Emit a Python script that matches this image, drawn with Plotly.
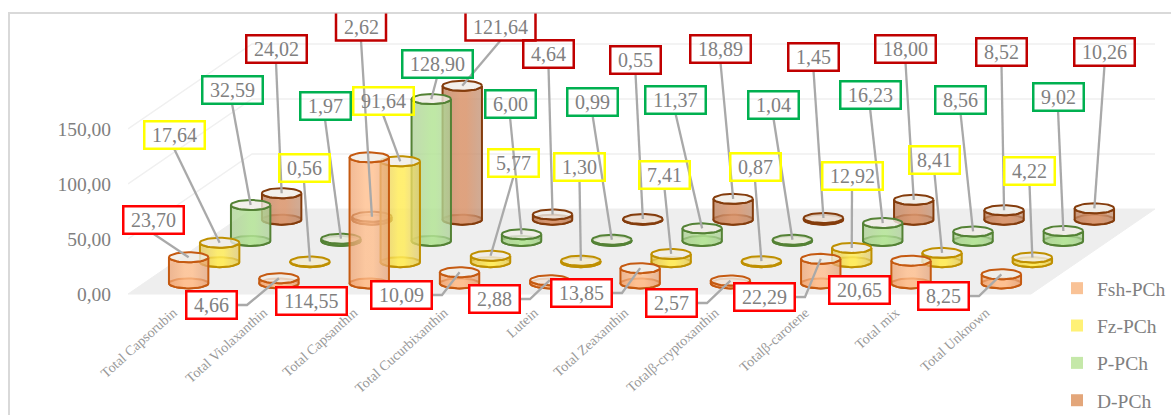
import numpy as np
import plotly.graph_objects as go

categories = ["Total Capsorubin", "Total Violaxanthin", "Total Capsanthin", "Total Cucurbixanthin",
              "Lutein", "Total Zeaxanthin", "Totalβ-cryptoxanthin", "Totalβ-carotene", "Total mix", "Total Unknown"]
series_names = ["Fsh-PCh", "Fz-PCh", "P-PCh", "D-PCh"]
fsh_pch = [23.70, 4.66, 114.55, 10.09, 2.88, 13.85, 2.57, 22.29, 20.65, 8.25]
fz_pch = [17.64, 0.56, 91.64, 5.77, 1.30, 7.41, 0.87, 12.92, 8.41, 4.22]
p_pch = [32.59, 1.97, 128.90, 6.00, 0.99, 11.37, 1.04, 16.23, 8.56, 9.02]
d_pch = [24.02, 2.62, 121.64, 4.64, 0.55, 18.89, 1.45, 18.00, 8.52, 10.26]
value_ticks = [0, 50, 100, 150]
series_values = [fsh_pch, fz_pch, p_pch, d_pch]

# --- styling / layout below (label box centres are layout, not data) ---
label_centres = [
    [(153, 220), (211, 305), (311, 300.5), (401, 295), (494, 299), (581, 293), (671, 303), (764, 297), (859, 289.5), (943, 296)],
    [(174, 135), (304, 168), (383, 101), (513.5, 163), (579.5, 166.5), (664.5, 175), (755, 167), (852, 176), (934.5, 160), (1029.5, 171)],
    [(232, 90), (325, 106), (437, 64), (510, 103.5), (592.5, 101.5), (675.5, 100), (773.5, 105), (870, 94.5), (960.5, 99.5), (1058, 96.5)],
    [(276, 49), (361, 27), (500.5, 27), (548.5, 53.5), (635.5, 60), (720.5, 49), (813.5, 57), (905.5, 49), (1001.5, 52), (1104.5, 52)],
]
line_cols = ["#C55A11", "#BF9000", "#548235", "#843C0C"]
box_cols = ["#FF0000", "#FFFF00", "#00B050", "#C00000"]
legend_cols = ["#F9C296", "#FFF176", "#C5E8A9", "#E3A67A"]
grads = [
    [[0, "rgba(236,160,110,.72)"], [.4, "rgba(255,190,140,.8)"], [.6, "rgba(255,190,140,.8)"], [1, "rgba(226,160,118,.72)"]],
    [[0, "rgba(225,195,90,.72)"], [.45, "rgba(255,236,90,.85)"], [.6, "rgba(255,236,90,.85)"], [1, "rgba(222,200,110,.72)"]],
    [[0, "rgba(170,205,145,.72)"], [.5, "rgba(180,228,150,.85)"], [.6, "rgba(180,228,150,.85)"], [1, "rgba(170,205,150,.72)"]],
    [[0, "rgba(190,130,95,.78)"], [.45, "rgba(218,150,110,.88)"], [.6, "rgba(218,150,110,.88)"], [1, "rgba(190,140,110,.72)"]],
]
base_fill = ["rgba(255,170,110,.55)", "rgba(255,230,80,.6)", "rgba(170,220,140,.6)", "rgba(205,135,95,.6)"]
GREY = "#808080"
FONT = "Liberation Serif"
W, H = 1171, 415
ML, MT, FLOOR_Y = 128, 14, 294
PX_CAT, PX_VAL = 90.3, 1.1
SHX, SHY = 31 / PX_CAT, 21.25 / PX_VAL
RX, RY = 19.7 / PX_CAT, 5.0 / PX_VAL
N_ROW, N_COL = len(series_names), len(categories)
OUTLINE = 2


def proj(col, row, val):
    return col + .5 + (row + .5) * SHX, val + (row + .5) * SHY


def from_px(px, py):
    return (px - ML) / PX_CAT, (FLOOR_Y - py) / PX_VAL


def paper_x(px):
    return (px - ML) / (W - ML)


def paper_y(py):
    return (H - py) / (H - MT)


fig = go.Figure()

for i, name in enumerate(series_names):
    fig.add_trace(go.Scatter(x=[None], y=[None], mode="markers", name=name, legendgroup=name,
                             marker=dict(symbol="square", size=12, color=legend_cols[i]),
                             hoverinfo="skip"))

# walls grid
for v in value_ticks[1:]:
    a, b, c = proj(-.5, -.5, v), proj(-.5, N_ROW - .5, v), proj(N_COL - .5, N_ROW - .5, v)
    fig.add_trace(go.Scatter(x=[a[0], b[0], c[0]], y=[a[1], b[1], c[1]], mode="lines",
                             line=dict(color="#F0F0F0", width=1.5), showlegend=False, hoverinfo="skip"))
# floor
corners = [proj(-.5, -.5, 0), proj(N_COL - .5, -.5, 0), proj(N_COL - .5, N_ROW - .5, 0), proj(-.5, N_ROW - .5, 0), proj(-.5, -.5, 0)]
fig.add_trace(go.Scatter(x=[p[0] for p in corners], y=[p[1] for p in corners], mode="lines", fill="toself",
                         fillcolor="#EEEEEE", line=dict(color="#EEEEEE", width=1), showlegend=False, hoverinfo="skip"))

th_full = np.linspace(0, 2 * np.pi, 49)
th_front = np.linspace(np.pi, 2 * np.pi, 25)
for row in range(N_ROW - 1, -1, -1):
    for col in range(N_COL):
        v = series_values[row][col]
        cx, y0 = proj(col, row, 0)
        y1 = y0 + v
        fig.add_trace(go.Scatter(x=cx + RX * np.cos(th_full), y=y0 + RY * np.sin(th_full), mode="lines", fill="toself",
                                 fillcolor=base_fill[row], line=dict(color=line_cols[row], width=OUTLINE),
                                 showlegend=False, hoverinfo="skip"))
        bx = np.concatenate([cx + RX * np.cos(th_front), cx + RX * np.cos(th_front[::-1]), [cx - RX]])
        by = np.concatenate([y0 + RY * np.sin(th_front), y1 + RY * np.sin(th_front[::-1]), [y0]])
        fig.add_trace(go.Scatter(x=bx, y=by, mode="lines", fill="toself",
                                 fillgradient=dict(type="horizontal", colorscale=grads[row]),
                                 line=dict(color=line_cols[row], width=OUTLINE),
                                 showlegend=False, hoverinfo="skip"))
        fig.add_trace(go.Scatter(x=cx + RX * np.cos(th_full), y=y1 + RY * np.sin(th_full), mode="lines", fill="toself",
                                 fillcolor="rgba(240,236,230,.8)", line=dict(color=line_cols[row], width=OUTLINE),
                                 showlegend=False, hoverinfo="skip"))

# leaders
lx, ly = [], []
annotations, shapes = [], []
no_leader = {(0, 2), (0, 8)}
elbow = {(0, 1), (0, 3), (0, 4), (0, 5), (0, 6), (0, 7), (0, 9)}
top_cut = {(3, 1), (3, 2)}
for row in range(N_ROW):
    for col in range(N_COL):
        v = series_values[row][col]
        bx, by = label_centres[row][col]
        text = f"{v:.2f}".replace(".", ",")
        w = 70 if v >= 100 else (60 if v >= 10 else 50)
        h = 27
        tx, ty = proj(col, row, v)
        if (row, col) in elbow:
            a, b = from_px(bx + w / 2, by), from_px(bx + w / 2 + 11, by)
            lx += [tx, b[0], a[0], None]
            ly += [ty, b[1], a[1], None]
        elif (row, col) not in no_leader:
            a = from_px(bx, by + h / 2)
            lx += [tx, a[0], None]
            ly += [ty, a[1], None]
        ax, ay = from_px(bx, by)
        cut = (row, col) in top_cut
        annotations.append(dict(x=ax, y=ay, text=text, showarrow=False, xanchor="center", yanchor="middle",
                                width=w - 2, height=h - 2, borderpad=0,
                                borderwidth=2.5, bordercolor="rgba(0,0,0,0)" if cut else box_cols[row],
                                bgcolor="#FFFFFF" if row == 0 else "rgba(0,0,0,0)",
                                font=dict(family=FONT, size=20, color=GREY)))
        if cut:
            l, r, t, b = bx - w / 2, bx + w / 2, by - h / 2, by + h / 2
            shapes.append(dict(type="path", xref="paper", yref="paper",
                               path=f"M{paper_x(l)},{paper_y(t)} L{paper_x(l)},{paper_y(b)} L{paper_x(r)},{paper_y(b)} L{paper_x(r)},{paper_y(t)}",
                               line=dict(color=box_cols[row], width=2.5)))
fig.add_trace(go.Scatter(x=lx, y=ly, mode="lines", line=dict(color="#A9A9A9", width=2.3),
                         showlegend=False, hoverinfo="skip"))

# outer frame
shapes.append(dict(type="path", xref="paper", yref="paper", layer="below",
                   path=f"M{paper_x(9)},{paper_y(420)} L{paper_x(9)},{paper_y(13)} L1.01,{paper_y(13)}",
                   line=dict(color="#D9D9D9", width=2)))

fig.update_layout(
    template="none",
    width=W, height=H, autosize=False,
    margin=dict(l=ML, r=0, t=MT, b=0, pad=0, autoexpand=False),
    paper_bgcolor="white", plot_bgcolor="rgba(0,0,0,0)",
    separators=",.",
    font=dict(family=FONT, color=GREY),
    xaxis=dict(range=[0, (W - ML) / PX_CAT], tickmode="array", tickvals=[i + .5 for i in range(N_COL)],
               ticktext=categories, tickangle=-42, ticks="outside", ticklen=4, tickcolor="rgba(0,0,0,0)",
               anchor="free", position=paper_y(FLOOR_Y), automargin=False,
               showgrid=False, zeroline=False, showline=False,
               tickfont=dict(family=FONT, size=14, color="#999999")),
    yaxis=dict(range=[(FLOOR_Y - H) / PX_VAL, (FLOOR_Y - MT) / PX_VAL], tickmode="array", tickvals=value_ticks, tickformat=".2f",
               ticks="outside", ticklen=12, tickcolor="rgba(0,0,0,0)", showgrid=False, zeroline=False, showline=False,
               automargin=False,
               tickfont=dict(family=FONT, size=19.5, color=GREY)),
    legend=dict(x=paper_x(1057), y=paper_y(269), xanchor="left", yanchor="top",
                bgcolor="rgba(0,0,0,0)", tracegroupgap=9, font=dict(family=FONT, size=19.5, color=GREY),
                itemclick=False, itemdoubleclick=False),
    annotations=annotations, shapes=shapes, showlegend=True,
)
fig.write_html("out.html", config=dict(displayModeBar=False), post_script="document.body.style.margin='0';")
